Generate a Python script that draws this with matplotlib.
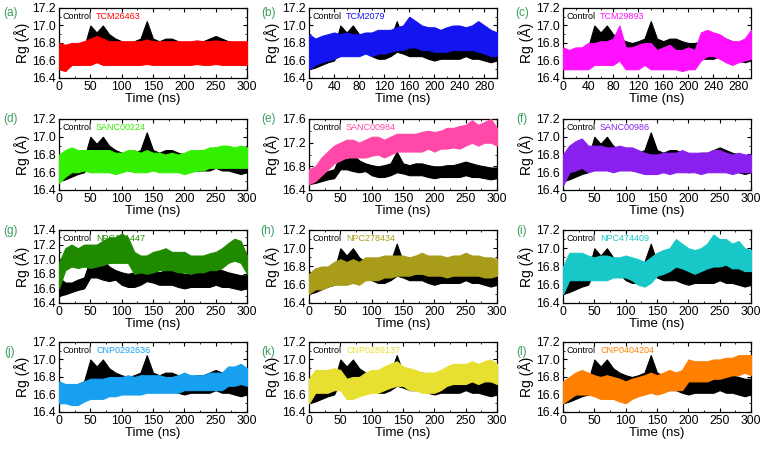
import numpy as np
import matplotlib
matplotlib.use("Agg")
import matplotlib.pyplot as plt
from matplotlib.ticker import MultipleLocator, AutoMinorLocator

plt.rcParams['font.family'] = ['Liberation Sans', 'DejaVu Sans']

# time grid (ns), envelopes read every 10 ns
t = np.arange(0, 301, 10)

# control (apo) Rg envelope, same in every panel
ctrl_lo = [16.50, 16.52, 16.55, 16.58, 16.60, 16.75, 16.75, 16.72, 16.70, 16.72, 16.65,
           16.62, 16.62, 16.65, 16.70, 16.68, 16.65, 16.65, 16.65, 16.62, 16.60,
           16.62, 16.62, 16.62, 16.62, 16.65, 16.62, 16.62, 16.60, 16.58, 16.60]
ctrl_hi = [16.75, 16.68, 16.68, 16.72, 16.75, 17.00, 16.92, 17.00, 16.90, 16.85, 16.82,
           16.80, 16.82, 16.85, 17.05, 16.85, 16.82, 16.85, 16.85, 16.82, 16.80,
           16.80, 16.82, 16.82, 16.85, 16.88, 16.85, 16.82, 16.80, 16.78, 16.78]

names = ['TCM26463', 'TCM2079', 'TCM29893', 'SANC00224', 'SANC00984', 'SANC00986',
         'NPC151447', 'NPC278434', 'NPC474409', 'CNP0292636', 'CNP0289137', 'CNP0404204']
colors = ['#ff0000', '#1414f0', '#ff10ff', '#33f000', '#ff48a8', '#8a20f0',
          '#1f8a00', '#a89c18', '#18c8c8', '#18a0f0', '#e8e030', '#ff8000']
panel_tags = ['(a)', '(b)', '(c)', '(d)', '(e)', '(f)', '(g)', '(h)', '(i)', '(j)', '(k)', '(l)']

lig_lo = [
    [16.50, 16.48, 16.55, 16.55, 16.55, 16.55, 16.58, 16.55, 16.55, 16.55, 16.55,
     16.55, 16.55, 16.55, 16.56, 16.55, 16.55, 16.55, 16.55, 16.55, 16.55,
     16.55, 16.56, 16.55, 16.55, 16.56, 16.55, 16.55, 16.55, 16.55, 16.55],
    [16.50, 16.55, 16.58, 16.60, 16.62, 16.65, 16.65, 16.65, 16.65, 16.68, 16.65,
     16.68, 16.68, 16.70, 16.72, 16.72, 16.75, 16.75, 16.72, 16.72, 16.70,
     16.70, 16.70, 16.72, 16.72, 16.72, 16.72, 16.70, 16.68, 16.65, 16.65],
    [16.50, 16.50, 16.50, 16.50, 16.50, 16.55, 16.55, 16.55, 16.55, 16.60, 16.50,
     16.50, 16.50, 16.55, 16.50, 16.50, 16.50, 16.50, 16.50, 16.48, 16.50,
     16.50, 16.60, 16.65, 16.65, 16.62, 16.58, 16.55, 16.58, 16.60, 16.62],
    [16.48, 16.55, 16.60, 16.60, 16.62, 16.60, 16.60, 16.60, 16.60, 16.58, 16.60,
     16.62, 16.60, 16.60, 16.60, 16.62, 16.60, 16.60, 16.60, 16.60, 16.58,
     16.60, 16.62, 16.62, 16.65, 16.65, 16.65, 16.65, 16.65, 16.65, 16.65],
    [16.50, 16.55, 16.65, 16.75, 16.85, 16.90, 16.95, 16.95, 16.95, 16.95, 16.98,
     17.00, 16.95, 17.00, 17.05, 17.05, 17.05, 17.05, 17.05, 17.10, 17.05,
     17.10, 17.10, 17.12, 17.10, 17.15, 17.20, 17.15, 17.20, 17.20, 17.15],
    [16.45, 16.60, 16.62, 16.65, 16.60, 16.62, 16.62, 16.62, 16.60, 16.62, 16.62,
     16.62, 16.60, 16.58, 16.58, 16.58, 16.60, 16.58, 16.60, 16.60, 16.60,
     16.60, 16.58, 16.60, 16.60, 16.60, 16.60, 16.58, 16.60, 16.60, 16.60],
    [16.60, 16.85, 16.90, 16.88, 16.90, 16.88, 16.90, 16.92, 16.95, 16.95, 16.95,
     16.95, 16.80, 16.82, 16.80, 16.82, 16.85, 16.85, 16.85, 16.82, 16.82,
     16.80, 16.82, 16.82, 16.85, 16.85, 16.88, 16.95, 16.98, 16.95, 16.80],
    [16.50, 16.55, 16.55, 16.58, 16.60, 16.60, 16.60, 16.62, 16.60, 16.65, 16.65,
     16.65, 16.68, 16.68, 16.70, 16.70, 16.70, 16.72, 16.72, 16.70, 16.70,
     16.70, 16.68, 16.70, 16.70, 16.70, 16.70, 16.70, 16.68, 16.68, 16.70],
    [16.50, 16.65, 16.65, 16.65, 16.65, 16.65, 16.65, 16.65, 16.68, 16.68, 16.68,
     16.65, 16.60, 16.58, 16.62, 16.70, 16.72, 16.75, 16.80, 16.78, 16.75,
     16.72, 16.75, 16.78, 16.80, 16.80, 16.82, 16.78, 16.78, 16.75, 16.75],
    [16.50, 16.50, 16.48, 16.48, 16.52, 16.55, 16.55, 16.55, 16.58, 16.58, 16.60,
     16.60, 16.60, 16.60, 16.62, 16.62, 16.62, 16.62, 16.62, 16.62, 16.65,
     16.65, 16.65, 16.65, 16.65, 16.65, 16.65, 16.70, 16.70, 16.72, 16.70],
    [16.50, 16.62, 16.62, 16.62, 16.65, 16.65, 16.55, 16.55, 16.58, 16.60, 16.62,
     16.62, 16.65, 16.68, 16.70, 16.70, 16.65, 16.65, 16.62, 16.62, 16.62,
     16.65, 16.70, 16.72, 16.72, 16.72, 16.75, 16.72, 16.75, 16.75, 16.72],
    [16.50, 16.55, 16.60, 16.60, 16.60, 16.58, 16.55, 16.55, 16.55, 16.52, 16.50,
     16.55, 16.58, 16.60, 16.62, 16.60, 16.62, 16.65, 16.65, 16.65, 16.75,
     16.75, 16.75, 16.75, 16.78, 16.78, 16.80, 16.82, 16.82, 16.85, 16.82],
]
lig_hi = [
    [16.80, 16.78, 16.80, 16.80, 16.82, 16.85, 16.88, 16.85, 16.82, 16.82, 16.82,
     16.82, 16.82, 16.82, 16.84, 16.82, 16.82, 16.82, 16.82, 16.82, 16.82,
     16.82, 16.83, 16.82, 16.82, 16.83, 16.82, 16.82, 16.82, 16.82, 16.82],
    [16.90, 16.85, 16.88, 16.90, 16.92, 16.90, 16.92, 16.90, 16.90, 16.92, 16.92,
     16.95, 16.95, 16.95, 16.98, 17.00, 17.10, 17.05, 17.00, 16.98, 16.98,
     16.95, 16.98, 17.00, 17.00, 16.98, 17.00, 17.05, 17.00, 16.95, 16.92],
    [16.75, 16.72, 16.75, 16.75, 16.80, 16.80, 16.82, 16.82, 16.85, 17.00, 16.75,
     16.75, 16.78, 16.80, 16.80, 16.72, 16.75, 16.78, 16.72, 16.72, 16.75,
     16.72, 16.92, 16.95, 16.92, 16.90, 16.85, 16.82, 16.82, 16.85, 16.95],
    [16.80, 16.85, 16.88, 16.85, 16.85, 16.85, 16.85, 16.85, 16.85, 16.82, 16.82,
     16.85, 16.85, 16.82, 16.85, 16.82, 16.82, 16.80, 16.82, 16.80, 16.82,
     16.85, 16.85, 16.85, 16.88, 16.88, 16.90, 16.90, 16.88, 16.90, 16.88],
    [16.75, 16.80, 16.95, 17.05, 17.15, 17.20, 17.25, 17.25, 17.20, 17.25, 17.30,
     17.30, 17.25, 17.30, 17.35, 17.35, 17.35, 17.35, 17.38, 17.40, 17.38,
     17.40, 17.45, 17.45, 17.48, 17.50, 17.58, 17.50, 17.55, 17.60, 17.45],
    [16.80, 16.90, 16.95, 16.98, 16.90, 16.90, 16.90, 16.88, 16.88, 16.90, 16.88,
     16.88, 16.85, 16.82, 16.80, 16.80, 16.82, 16.82, 16.82, 16.85, 16.82,
     16.82, 16.82, 16.82, 16.85, 16.85, 16.82, 16.80, 16.82, 16.80, 16.80],
    [16.95, 17.15, 17.20, 17.15, 17.20, 17.20, 17.20, 17.25, 17.30, 17.30, 17.35,
     17.30, 17.10, 17.05, 17.05, 17.10, 17.12, 17.15, 17.10, 17.10, 17.10,
     17.05, 17.05, 17.05, 17.08, 17.10, 17.15, 17.22, 17.28, 17.25, 17.05],
    [16.72, 16.78, 16.80, 16.80, 16.85, 16.88, 16.85, 16.88, 16.85, 16.90, 16.90,
     16.90, 16.92, 16.92, 16.92, 16.92, 16.90, 16.92, 16.95, 16.92, 16.92,
     16.92, 16.90, 16.92, 16.92, 16.95, 16.92, 16.92, 16.90, 16.90, 16.88],
    [16.80, 16.95, 16.95, 16.95, 16.92, 16.90, 16.92, 16.92, 16.90, 16.90, 16.92,
     16.90, 16.88, 16.85, 16.90, 16.95, 16.98, 17.00, 17.10, 17.05, 17.00,
     16.98, 17.00, 17.05, 17.15, 17.10, 17.10, 17.05, 17.08, 17.00, 16.98],
    [16.75, 16.72, 16.72, 16.72, 16.75, 16.78, 16.78, 16.78, 16.80, 16.80, 16.80,
     16.82, 16.80, 16.82, 16.82, 16.82, 16.82, 16.80, 16.80, 16.82, 16.85,
     16.82, 16.82, 16.82, 16.85, 16.85, 16.85, 16.92, 16.92, 16.95, 16.90],
    [16.78, 16.88, 16.88, 16.88, 16.90, 16.88, 16.78, 16.80, 16.80, 16.85, 16.88,
     16.88, 16.92, 16.95, 16.98, 16.92, 16.90, 16.88, 16.85, 16.85, 16.85,
     16.88, 16.92, 16.95, 16.95, 16.95, 16.98, 16.95, 16.98, 17.00, 16.95],
    [16.75, 16.80, 16.85, 16.88, 16.85, 16.82, 16.80, 16.82, 16.80, 16.78, 16.75,
     16.78, 16.80, 16.82, 16.85, 16.82, 16.85, 16.88, 16.85, 16.88, 17.00,
     16.98, 16.98, 16.98, 17.00, 17.00, 17.02, 17.02, 17.05, 17.05, 17.05],
]

W, H = 764, 449
fig = plt.figure(figsize=(W / 100, H / 100), dpi=100)

col_left = [59, 309, 563]
col_width = [188, 188, 188]
row_top = [8, 119, 230, 342]
row_height = [70, 71, 73, 70]
tag_x = [10, 268, 522]
tag_y = [13, 119, 231, 352]
label_green = '#3a9d5d'

for i in range(12):
    r, c = divmod(i, 3)
    left = col_left[c] / W
    bottom = 1 - (row_top[r] + row_height[r]) / H
    ax = fig.add_axes([left, bottom, col_width[c] / W, row_height[r] / H])

    ax.fill_between(t, ctrl_lo, ctrl_hi, color='black', lw=0.8, zorder=2)
    ax.fill_between(t, lig_lo[i], lig_hi[i], color=colors[i], lw=0.8, zorder=3)

    ax.set_xlim(0, 300)
    if i in (1, 2):
        ax.xaxis.set_major_locator(MultipleLocator(40))
    else:
        ax.xaxis.set_major_locator(MultipleLocator(50))
    if i == 4:
        ax.set_ylim(16.4, 17.6)
        ax.yaxis.set_major_locator(MultipleLocator(0.4))
    elif i == 6:
        ax.set_ylim(16.4, 17.4)
        ax.yaxis.set_major_locator(MultipleLocator(0.2))
    else:
        ax.set_ylim(16.4, 17.2)
        ax.yaxis.set_major_locator(MultipleLocator(0.2))
    ax.yaxis.set_major_formatter(plt.FormatStrFormatter('%.1f'))
    ax.xaxis.set_minor_locator(AutoMinorLocator(2))
    ax.yaxis.set_minor_locator(AutoMinorLocator(2))
    ax.tick_params(which='both', direction='in', top=True, right=True,
                   labelsize=8.8, pad=2)
    ax.tick_params(which='major', length=3)
    ax.tick_params(which='minor', length=1.5)
    for s in ax.spines.values():
        s.set_linewidth(0.9)

    ax.set_xlabel('Time (ns)', fontsize=9.5, labelpad=0)
    ax.set_ylabel('Rg (Å)', fontsize=10, labelpad=2)

    ax.text(0.02, 0.88, 'Control', transform=ax.transAxes, fontsize=6.5,
            color='black', zorder=1, va='center')
    ax.text(0.197, 0.88, names[i], transform=ax.transAxes, fontsize=6.5,
            color=colors[i], zorder=1, va='center')

    fig.text(tag_x[c] / W, 1 - tag_y[r] / H, panel_tags[i], color=label_green,
             fontsize=8.5, ha='center', va='center')

fig.savefig('out.png', dpi=100)
